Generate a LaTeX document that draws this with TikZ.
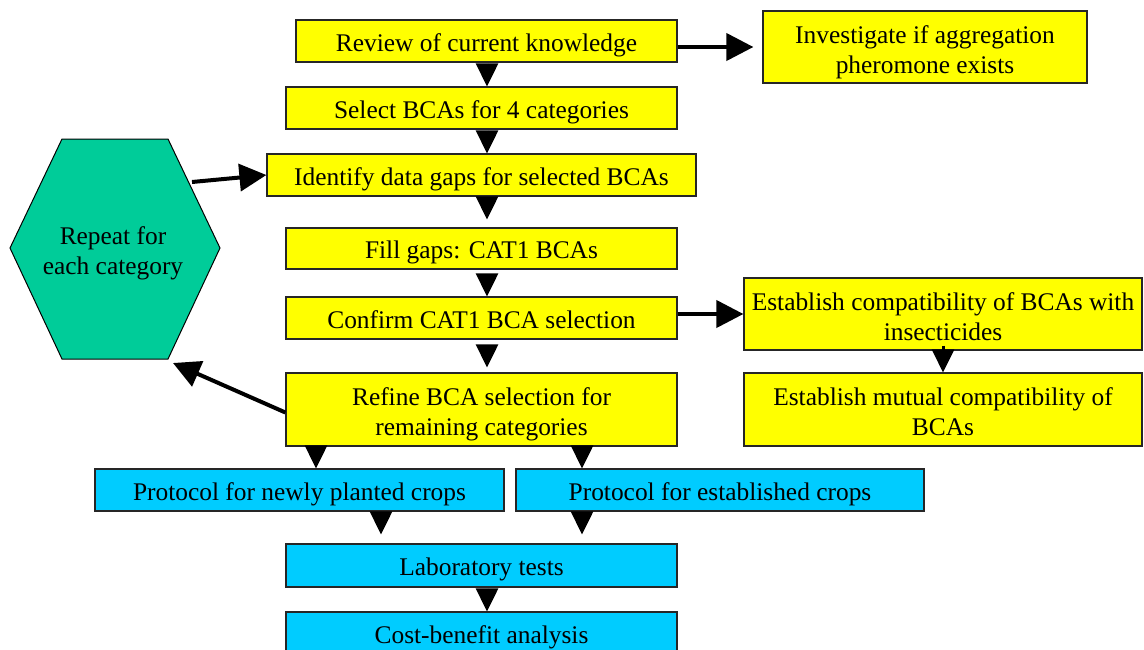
\documentclass[tikz,border=0pt]{standalone}
\usepackage{fontspec}
\setmainfont{Liberation Serif}
\usetikzlibrary{arrows.meta,calc}
\definecolor{boxyellow}{RGB}{255,255,0}
\definecolor{boxcyan}{RGB}{0,204,255}
\definecolor{hexgreen}{RGB}{0,204,153}
\tikzset{
 boxtext/.style={align=center, font=\fontsize{25.4}{30}\selectfont, text=black},
 oneline/.style={text height=26.5pt, text depth=6pt},
 twoline/.style={text height=58pt, text depth=6pt},
 flowbox/.style={boxtext, draw=black!85, line width=1.2pt, inner sep=0pt},
 ybox/.style={flowbox, fill=boxyellow},
 cbox/.style={flowbox, fill=boxcyan},
 varrow/.style={line width=3pt, -{Triangle[length=23pt,width=22pt]}},
 harrow/.style={line width=4pt, -{Triangle[length=27pt,width=27pt]}},
}
\begin{document}
\begin{tikzpicture}[x=1pt,y=-1pt]
\useasboundingbox (0,0) rectangle (1144,649);
% boxes
\node[ybox, oneline, minimum width=381pt, minimum height=42pt] (review) at (486.5,41) {Review of current knowledge};
\node[ybox, twoline, minimum width=324pt, minimum height=72pt] (investigate) at (925,47) {Investigate if aggregation\\pheromone exists};
\node[ybox, oneline, minimum width=391pt, minimum height=42pt] (select) at (481.5,108) {Select BCAs for 4 categories};
\node[ybox, oneline, minimum width=429pt, minimum height=42pt] (identify) at (481.5,175) {Identify data gaps for selected BCAs};
\node[ybox, oneline, minimum width=391pt, minimum height=41pt] (fill) at (481.5,248.5) {Fill gaps: CAT1 BCAs};
\node[ybox, oneline, minimum width=391pt, minimum height=42pt] (confirm) at (481.5,318) {Confirm CAT1 BCA selection};
\node[ybox, twoline, minimum width=398pt, minimum height=72pt] (compat) at (943,314) {Establish compatibility of BCAs with\\insecticides};
\node[ybox, twoline, minimum width=398pt, minimum height=73pt] (mutual) at (943,409.5) {Establish mutual compatibility of\\BCAs};
\node[ybox, twoline, minimum width=391pt, minimum height=73pt] (refine) at (481.5,409.5) {Refine BCA selection for\\remaining categories};
\node[cbox, oneline, minimum width=409pt, minimum height=42pt] (newly) at (299.5,490) {Protocol for newly planted crops};
\node[cbox, oneline, minimum width=408pt, minimum height=42pt] (established) at (720,490) {Protocol for established crops};
\node[cbox, oneline, minimum width=391pt, minimum height=43pt] (lab) at (481.5,565.5) {Laboratory tests};
\node[cbox, oneline, minimum width=391pt, minimum height=43pt] (cost) at (481.5,633.5) {Cost-benefit analysis};
% hexagon
\filldraw[fill=hexgreen, draw=black, line width=1pt] (10,248) -- (62,139) -- (168,139) -- (220,248) -- (168,359) -- (62,359) -- cycle;
\node[boxtext, twoline, inner sep=0pt] (hex) at (113,248) {Repeat for\\each category};
\coordinate (hexin) at (192,182);
\coordinate (hexout) at (173,363);
% column positions
\coordinate (colx) at (487,0);
\coordinate (lx) at (316,0);
\coordinate (rx) at (582,0);
\coordinate (mx) at (381,0);
% vertical arrows
\draw[varrow, shorten <=1pt] (review.south -| colx) -- (select.north -| colx);
\draw[varrow, shorten <=1pt] (select.south -| colx) -- (identify.north -| colx);
\draw[varrow, shorten >=8pt, shorten <=0.5pt] (identify.south -| colx) -- (fill.north -| colx);
\draw[varrow, shorten <=4.5pt] (fill.south -| colx) -- (confirm.north -| colx);
\draw[varrow, shorten >=5pt, shorten <=5.5pt] (confirm.south -| colx) -- (refine.north -| colx);
\draw[varrow] (refine.south -| lx) -- (newly.north -| lx);
\draw[varrow] (refine.south -| rx) -- (established.north -| rx);
\draw[varrow, shorten >=9pt, shorten <=0.5pt] (newly.south -| mx) -- (lab.north -| mx);
\draw[varrow, shorten >=9pt, shorten <=0.5pt] (established.south -| rx) -- (lab.north -| rx);
\draw[varrow, shorten <=1pt] (lab.south -| colx) -- (cost.north -| colx);
\draw[varrow] ([yshift=5pt]compat.south) -- (mutual.north);
% horizontal / diagonal arrows
\draw[harrow, shorten >=9pt] (review.east |- investigate.west) -- (investigate.west);
\draw[harrow] (confirm.east |- compat.west) -- (compat.west);
\draw[harrow] (hexin) -- (identify.west);
\draw[harrow] ([yshift=-3pt]refine.west) -- (hexout);
\end{tikzpicture}
\end{document}
